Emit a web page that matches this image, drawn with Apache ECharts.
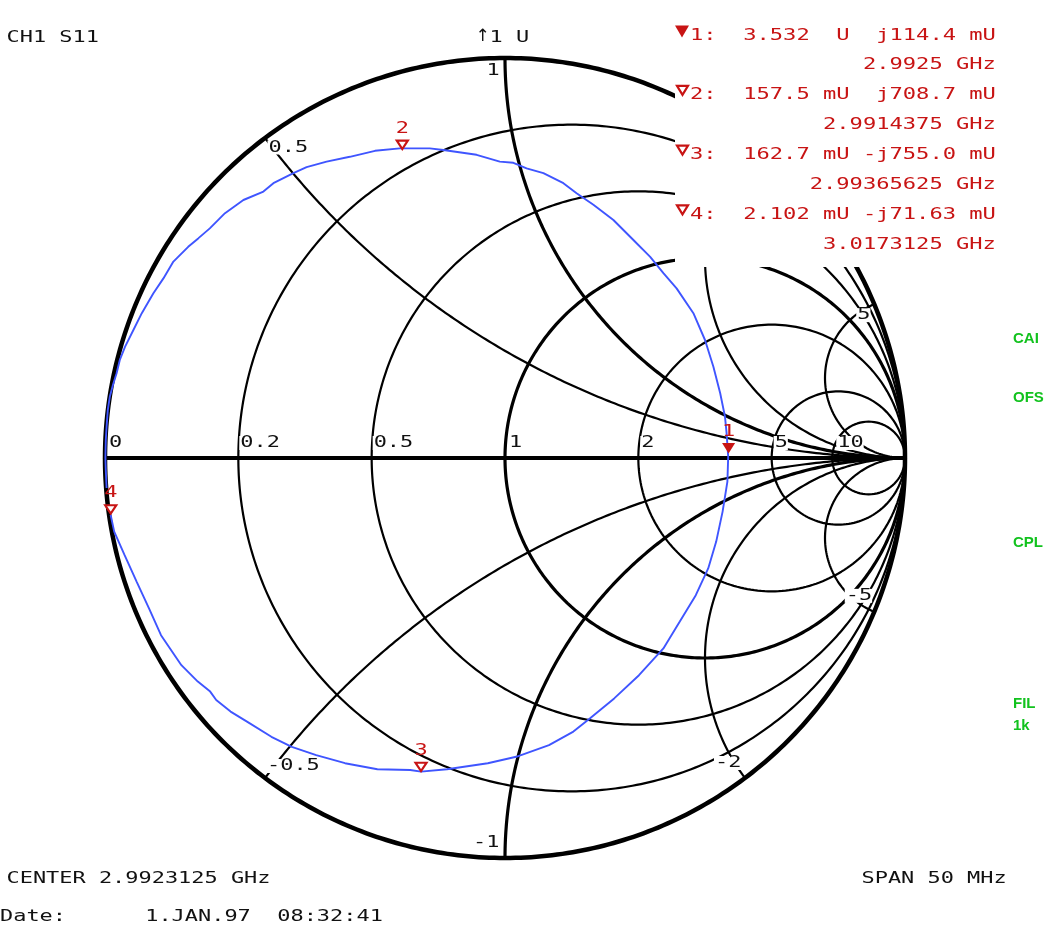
<!DOCTYPE html>
<html><head><meta charset="utf-8">
<script src="https://cdn.jsdelivr.net/npm/echarts@6/dist/echarts.min.js"></script>
<style>html,body{margin:0;padding:0;background:#fff}#c{width:1058px;height:931px}</style>
</head><body><div id="c"></div>
<script>
// ---------- data ----------
const resistanceValues = [0, 0.2, 0.5, 1, 2, 5, 10];
const resistanceLabels = ['0', '0.2', '0.5', '1', '2', '5', '10'];
const reactanceValues = [0.5, 1, 2, 5, -0.5, -1, -2, -5];
const reactanceLabelValues = [0.5, 1, 2, 5, -0.5, -1, -2, -5];
const reactanceLabels = ['0.5', '1', '2', '5', '-0.5', '-1', '-2', '-5'];

const traceRe = [-0.996,-0.998,-0.999,-0.998,-0.996,-0.993,-0.988,-0.980,-0.971,-0.963,-0.950,-0.929,-0.908,-0.879,-0.854,-0.829,-0.792,-0.767,-0.738,-0.700,-0.654,-0.604,-0.579,-0.529,-0.496,-0.446,-0.388,-0.325,-0.263,-0.188,-0.154,-0.071,-0.013,0.021,0.054,0.096,0.146,0.179,0.221,0.271,0.321,0.363,0.396,0.429,0.471,0.500,0.521,0.538,0.550,0.554,0.558,0.556,0.544,0.528,0.508,0.477,0.437,0.396,0.335,0.273,0.212,0.171,0.110,0.028,-0.043,-0.145,-0.210,-0.237,-0.319,-0.400,-0.472,-0.533,-0.584,-0.645,-0.686,-0.722,-0.737,-0.768,-0.809,-0.860,-0.890,-0.921,-0.951,-0.977,-0.986];
const traceIm = [-0.075,-0.030,0.000,0.045,0.078,0.120,0.153,0.183,0.212,0.245,0.278,0.320,0.362,0.412,0.449,0.491,0.528,0.549,0.574,0.612,0.645,0.666,0.687,0.712,0.727,0.741,0.753,0.768,0.774,0.774,0.770,0.758,0.741,0.738,0.724,0.712,0.687,0.662,0.633,0.595,0.545,0.503,0.462,0.424,0.362,0.295,0.228,0.162,0.103,0.062,0.003,-0.059,-0.134,-0.209,-0.276,-0.343,-0.409,-0.476,-0.543,-0.601,-0.651,-0.684,-0.718,-0.747,-0.763,-0.778,-0.784,-0.780,-0.778,-0.763,-0.743,-0.722,-0.697,-0.659,-0.634,-0.605,-0.584,-0.559,-0.518,-0.443,-0.376,-0.309,-0.243,-0.184,-0.142];

// markers (normalised impedance r + jx)
const markerIds = ['1', '2', '3', '4'];
const markerR = [3.532, 0.1575, 0.1627, 0.002102];
const markerX = [0.1144, 0.7087, -0.7550, -0.07163];
const markerImpedanceText = ['3.532  U  j114.4 mU', '157.5 mU  j708.7 mU', '162.7 mU -j755.0 mU', '2.102 mU -j71.63 mU'];
const markerFreqText = ['2.9925 GHz', '2.9914375 GHz', '2.99365625 GHz', '3.0173125 GHz'];
const activeMarker = 0;

const channelText = 'CH1 S11';
const scaleArrow = '\u2191';
const scaleText = '1 U';
const centerText = 'CENTER 2.9923125 GHz';
const spanText = 'SPAN 50 MHz';
const dateText = 'Date:      1.JAN.97  08:32:41';
const statusTexts = ['CAI', 'OFS', 'CPL', 'FIL', '1k'];

// ---------- styles / layout ----------
const RED = '#c81414';
const BLUE = '#3f55ff';
const GREEN = '#12c21e';
const INK = '#111';
const CELL = 13.2;
const MONO = '16px "DejaVu Sans Mono", "Liberation Mono", monospace';
const K = CELL / (0.602 * 16);

const rLabelOffset = {'0':[4,-15],'0.2':[2,-15],'0.5':[2,-15],'1':[4,-15],'2':[3,-15],'5':[3,-15],'10':[5,-15]};
const xLabelOffset = {'0.5':[3.5,9.5],'1':[-18.5,13],'2':[-22,12],'5':[-17,11],'-0.5':[2,-12],'-1':[-32,-15],'-2':[-30,-15],'-5':[-28.5,-16]};

// ---------- Smith chart mapping ----------
function gamma(r, x) {
  const d = (r + 1) * (r + 1) + x * x;
  return [(r * r + x * x - 1) / d, 2 * x / d];
}
function rCircle(r) {
  const c = r / (r + 1), R = 1 / (r + 1), pts = [];
  for (let i = 0; i <= 480; i++) { const t = i / 480 * 2 * Math.PI; pts.push([c + R * Math.cos(t), R * Math.sin(t)]); }
  return pts;
}
function xArc(x) {
  const ax = Math.abs(x), s = Math.sign(x), cy = 1 / ax, R = 1 / ax;
  const p0 = gamma(0, ax);
  let a0 = Math.atan2(p0[1] - cy, p0[0] - 1); if (a0 < 0) a0 += 2 * Math.PI;
  const a1 = 1.5 * Math.PI, pts = [];
  for (let i = 0; i <= 400; i++) { const a = a0 + (a1 - a0) * i / 400; pts.push([1 + R * Math.cos(a), s * (cy + R * Math.sin(a))]); }
  return pts;
}
function lineSeries(data, width, z) {
  return { type: 'line', data, symbol: 'none', showSymbol: false, silent: true, animation: false, clip: false, z: z || 1,
    lineStyle: { color: '#000', width, cap: 'round', join: 'round' } };
}

const series = [];
resistanceValues.forEach(r => series.push(lineSeries(rCircle(r), r === 0 ? 4.5 : (r === 1 ? 3.2 : 2.2))));
reactanceValues.forEach(x => series.push(lineSeries(xArc(x), Math.abs(x) === 1 ? 3.2 : 2.2)));
series.push(lineSeries([[-1, 0], [1, 0]], 4.2));

// grid labels
const labelData = [];
resistanceValues.forEach((r, i) => { const g = gamma(r, 0); labelData.push([g[0], g[1], resistanceLabels[i], 'r']); });
reactanceLabelValues.forEach((x, i) => { const g = gamma(0, x); labelData.push([g[0], g[1], reactanceLabels[i], 'x']); });

function textEl(text, x, y, fill, align, extra) {
  return Object.assign({ type: 'text', x, y, scaleX: K, silent: true,
    style: { text, font: MONO, fill, textAlign: align, align: align, textVerticalAlign: 'middle', verticalAlign: 'middle' } }, extra || {});
}

series.push({
  type: 'custom', coordinateSystem: 'cartesian2d', z: 2, silent: true, animation: false,
  data: labelData.map(d => [d[0], d[1]]),
  renderItem(params, api) {
    const d = labelData[params.dataIndex];
    const p = api.coord([api.value(0), api.value(1)]);
    const off = (d[3] === 'r' ? rLabelOffset : xLabelOffset)[d[2]];
    const x0 = p[0] + off[0], y0 = p[1] + off[1];
    return { type: 'group', children: [
      { type: 'rect', shape: { x: x0 - 1, y: y0 - 7, width: d[2].length * CELL + 1, height: 14 }, style: { fill: '#fff' } },
      textEl(d[2], x0, y0, INK, 'left')
    ] };
  }
});

// trace
series.push({ type: 'line', data: traceRe.map((v, i) => [v, traceIm[i]]), symbol: 'none', showSymbol: false, silent: true,
  animation: false, clip: false, z: 3, lineStyle: { color: BLUE, width: 1.9 } });

// markers
const markerData = markerIds.map((id, i) => gamma(markerR[i], markerX[i]));
series.push({
  type: 'custom', coordinateSystem: 'cartesian2d', z: 4, silent: true, animation: false,
  data: markerData,
  renderItem(params, api) {
    const i = params.dataIndex;
    const p = api.coord([api.value(0), api.value(1)]);
    const tri = i === activeMarker
      ? { type: 'polygon', shape: { points: [[p[0] - 6.5, p[1] - 10.5], [p[0] + 6.5, p[1] - 10.5], [p[0], p[1]]] }, style: { fill: RED } }
      : { type: 'polygon', shape: { points: [[p[0] - 5.5, p[1] - 9.5], [p[0] + 5.5, p[1] - 9.5], [p[0], p[1] - 1.2]] }, style: { fill: '#fff', stroke: RED, lineWidth: 2.2 } };
    return { type: 'group', children: [tri, textEl(markerIds[i], p[0], p[1] - 21.5, RED, 'center')] };
  }
});

// ---------- annotations ----------
const G = [];
G.push({ type: 'rect', shape: { x: 675, y: 0, width: 383, height: 267 }, style: { fill: '#fff' }, z: 100, silent: true });
markerIds.forEach((id, i) => {
  const yImp = 35.5 + 59.8 * i, yFreq = 64.5 + 60 * i;
  G.push(textEl(id + ':  ' + markerImpedanceText[i], 690, yImp, RED, 'left', { z: 110 }));
  G.push(textEl(markerFreqText[i], 690 + 23 * 13.3, yFreq, RED, 'right', { z: 110, scaleX: 13.3 / (0.602 * 16) }));
  const ty = yImp - 10;
  if (i === activeMarker) {
    G.push({ type: 'polygon', z: 110, silent: true, shape: { points: [[675, ty], [689, ty], [682, ty + 12]] }, style: { fill: RED } });
  } else {
    G.push({ type: 'polygon', z: 110, silent: true, shape: { points: [[677, ty + 0.5], [688, ty + 0.5], [682.5, ty + 9.5]] }, style: { fill: '#fff', stroke: RED, lineWidth: 2.2 } });
  }
});
// readout lines use the wider 13.3 px cell
G.forEach(e => { if (e.type === 'text' && e.style.fill === RED) e.scaleX = 13.3 / (0.602 * 16); });
G.push(textEl(channelText, 6.5, 38, INK, 'left', { z: 110 }));
G.push({ type: 'text', x: 482.5, y: 37, z: 110, silent: true,
  style: { text: scaleArrow, font: '17px "DejaVu Sans", sans-serif', fill: INK, textAlign: 'center', align: 'center', textVerticalAlign: 'middle', verticalAlign: 'middle' } });
G.push(textEl(scaleText, 489.5, 38, INK, 'left', { z: 110 }));
G.push(textEl(centerText, 6.5, 879, INK, 'left', { z: 110 }));
G.push(textEl(spanText, 861.5, 879, INK, 'left', { z: 110 }));
G.push(textEl(dateText, 0, 917, INK, 'left', { z: 110 }));
const statusY = [338.5, 398, 542.5, 704, 726];
statusTexts.forEach((t, i) => G.push({ type: 'text', x: 1013, y: statusY[i], z: 110, silent: true,
  style: { text: t, font: 'bold 15px "Liberation Sans", Arial, sans-serif', fill: GREEN, textAlign: 'left', align: 'left', textVerticalAlign: 'middle', verticalAlign: 'middle' } }));

const chart = echarts.init(document.getElementById('c'), null, { renderer: 'canvas' });
chart.setOption({
  backgroundColor: '#fff',
  animation: false,
  grid: { left: 105, top: 58, width: 800, height: 800, containLabel: false, outerBoundsMode: 'none' },
  xAxis: { type: 'value', min: -1, max: 1, show: false },
  yAxis: { type: 'value', min: -1, max: 1, show: false },
  series,
  graphic: { elements: G }
});
</script></body></html>
